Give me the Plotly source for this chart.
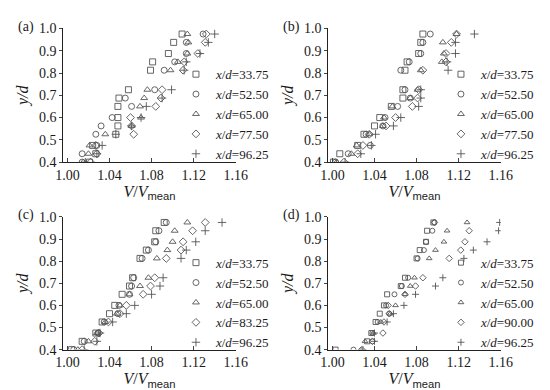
import plotly.graph_objects as go

# y/d levels shared by all panels
levels = [0.4, 0.4375, 0.475, 0.525, 0.5625, 0.6, 0.65, 0.6875, 0.725, 0.8125, 0.85, 0.8875, 0.9375, 0.975]

# Panel (a)
a_names = ["33.75", "52.50", "65.00", "77.50", "96.25"]
a_s1 = [1.021, 1.027, 1.024, 1.046, 1.048, 1.048, 1.048, 1.049, 1.058, 1.079, 1.081, 1.096, 1.101, 1.109]
a_s2 = [1.014, 1.014, 1.028, 1.027, 1.032, 1.0425, 1.061, 1.055, 1.083, 1.092, 1.102, 1.113, 1.113, 1.129]
a_s3 = [1.015, 1.020, 1.021, 1.036, 1.061, 1.070, 1.069, 1.073, 1.076, 1.098, 1.105, 1.114, 1.115, 1.114]
a_s4 = [1.022, 1.028, 1.027, 1.063, 1.061, 1.060, 1.084, 1.089, 1.090, 1.110, 1.111, 1.124, 1.131, 1.132]
a_s5 = [1.017, 1.028, 1.033, 1.046, 1.061, 1.070, 1.075, 1.090, 1.099, 1.111, 1.113, 1.126, 1.134, 1.140]

# Panel (b)
b_names = ["33.75", "52.50", "65.00", "77.50", "96.25"]
b_s1 = [1.001, 1.007, 1.024, 1.030, 1.040, 1.045, 1.056, 1.067, 1.067, 1.069, 1.071, 1.082, 1.084, 1.086]
b_s2 = [1.003, 1.015, 1.036, 1.032, 1.048, 1.050, 1.062, 1.074, 1.069, 1.065, 1.073, 1.084, 1.086, 1.093]
b_s3 = [1.004, 1.018, 1.023, 1.035, 1.048, 1.049, 1.057, 1.074, 1.081, 1.084, 1.104, 1.106, 1.105, 1.118]
b_s4 = [1.011, 1.024, 1.029, 1.035, 1.051, 1.060, 1.076, 1.081, 1.082, 1.086, 1.108, 1.108, 1.113, 1.118]
b_s5 = [1.012, 1.027, 1.037, 1.041, 1.058, 1.065, 1.082, 1.084, 1.084, 1.110, 1.109, 1.117, 1.117, 1.135]

# Panel (c)
c_names = ["33.75", "52.50", "65.00", "83.25", "96.25"]
c_s1 = [1.004, 1.014, 1.027, 1.033, 1.040, 1.045, 1.052, 1.059, 1.062, 1.069, 1.075, 1.083, 1.084, 1.092]
c_s2 = [1.006, 1.016, 1.029, 1.035, 1.048, 1.049, 1.059, 1.061, 1.063, 1.071, 1.077, 1.084, 1.087, 1.094]
c_s3 = [1.010, 1.020, 1.028, 1.036, 1.047, 1.050, 1.059, 1.069, 1.077, 1.085, 1.095, 1.100, 1.102, 1.114]
c_s4 = [1.014, 1.026, 1.030, 1.039, 1.050, 1.056, 1.072, 1.079, 1.083, 1.094, 1.108, 1.110, 1.119, 1.131]
c_s5 = [1.016, 1.028, 1.031, 1.043, 1.056, 1.064, 1.080, 1.088, 1.091, 1.108, 1.113, 1.122, 1.131, 1.147]

# Panel (d)
d_names = ["33.75", "52.50", "65.00", "90.00", "96.25"]
d_s1 = [1.003, 1.033, 1.037, 1.041, 1.045, 1.049, 1.052, 1.065, 1.069, 1.080, 1.083, 1.089, 1.090, 1.096]
d_s2 = [1.020, 1.038, 1.038, 1.043, 1.054, 1.051, 1.059, 1.066, 1.072, 1.081, 1.087, 1.089, 1.095, 1.097]
d_s3 = [1.027, 1.031, 1.039, 1.046, 1.055, 1.060, 1.069, 1.074, 1.078, 1.092, 1.098, 1.106, 1.109, 1.128]
d_s4 = [1.028, 1.038, 1.048, 1.049, 1.054, 1.053, 1.069, 1.079, 1.086, 1.111, 1.122, 1.126, 1.130, 1.097]
d_s5 = [1.029, 1.040, 1.040, 1.052, 1.058, 1.068, 1.079, 1.098, 1.105, 1.125, 1.134, 1.147, 1.158, 1.159]

x_ticks = [1.00, 1.04, 1.08, 1.12, 1.16]
x_ticklabels = ["1.00", "1.04", "1.08", "1.12", "1.16"]
y_ticks = [0.4, 0.5, 0.6, 0.7, 0.8, 0.9, 1.0]
y_ticklabels = ["0.4", "0.5", "0.6", "0.7", "0.8", "0.9", "1.0"]
panel_labels = ["(a)", "(b)", "(c)", "(d)"]

W, H = 550, 390
SERIF = "Liberation Serif"
GRAY = "#555555"
TXT = "#1a1a1a"
symbols = ["square-open", "circle-open", "triangle-up-open", "diamond-open", "cross-thin"]

panels = [
    (a_names, [a_s1, a_s2, a_s3, a_s4, a_s5]),
    (b_names, [b_s1, b_s2, b_s3, b_s4, b_s5]),
    (c_names, [c_s1, c_s2, c_s3, c_s4, c_s5]),
    (d_names, [d_s1, d_s2, d_s3, d_s4, d_s5]),
]

# pixel boxes: (x0, x1, ytop, ybottom)
boxes = [(49, 228, 14, 153), (324, 503, 14, 153), (49, 228, 210, 348), (324, 503, 210, 348)]
msizes = [6, 6, 6, 5]

fig = go.Figure()
layout = {}
for i, ((names, series), box, ms) in enumerate(zip(panels, boxes, msizes)):
    k = "" if i == 0 else str(i + 1)
    leg = "legend" if i == 0 else "legend" + str(i + 1)
    for name, vals, sym in zip(names, series, symbols):
        fig.add_trace(go.Scatter(
            x=vals, y=levels, mode="markers", xaxis="x" + k, yaxis="y" + k,
            name="<i>x</i>/<i>d</i>=" + name, legend=leg,
            marker=dict(symbol=sym, size=ms, color=GRAY, line=dict(color=GRAY, width=0.9)),
        ))
    x0, x1, yt, yb = box
    layout["xaxis" + k] = dict(
        domain=[x0 / W, x1 / W], range=[0.996, 1.16], anchor="y" + k,
        tickvals=x_ticks, ticktext=x_ticklabels, ticks="inside", ticklen=4,
        showline=True, linecolor="#222", linewidth=1, showgrid=False, zeroline=False,
        tickfont=dict(family=SERIF, size=14, color=TXT),
        title=dict(text="<i>V</i>/<i>V</i><sub><span style='font-family:Liberation Sans'>mean</span></sub>",
                   font=dict(family=SERIF, size=16, color=TXT), standoff=2),
    )
    layout["yaxis" + k] = dict(
        domain=[1 - yb / H, 1 - yt / H], range=[0.4, 1.0], anchor="x" + k,
        tickvals=y_ticks, ticktext=y_ticklabels, ticks="outside", ticklen=3,
        showline=True, linecolor="#222", linewidth=1, showgrid=False, zeroline=False,
        tickfont=dict(family=SERIF, size=14, color=TXT),
        title=dict(text="<i>y/d</i>", font=dict(family=SERIF, size=16, color=TXT), standoff=6),
    )
    layout[leg] = dict(
        x=(x1 - 62) / W, xanchor="left", y=1 - (yt + 32) / H, yanchor="top",
        bgcolor="rgba(0,0,0,0)", font=dict(family=SERIF, size=13, color=TXT),
        tracegroupgap=0, itemwidth=30,
    )

annotations = []
for lab, box in zip(panel_labels, boxes):
    x0, x1, yt, yb = box
    annotations.append(dict(text=lab, x=(x0 - 49) / W, y=1 - (yt - 2) / H, xref="paper", yref="paper",
                            xanchor="left", yanchor="middle", showarrow=False,
                            font=dict(family=SERIF, size=14, color=TXT)))

fig.update_layout(
    width=W, height=H, margin=dict(l=0, r=0, t=0, b=0),
    paper_bgcolor="white", plot_bgcolor="white",
    annotations=annotations, **layout,
)
fig.write_html("out.html")
